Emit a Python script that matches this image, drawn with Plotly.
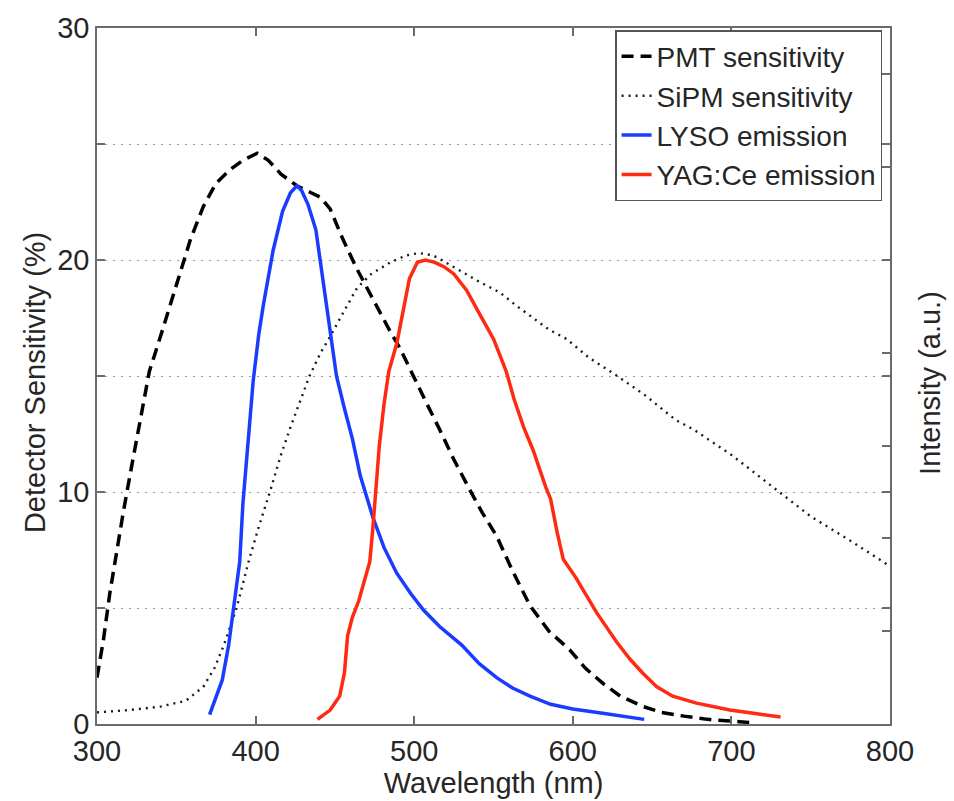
import plotly.graph_objects as go

# ---- data ----
pmt_wl = [300, 304, 308, 312, 316.5, 321, 325, 329, 333, 340, 346, 352, 359, 367, 375, 384, 392, 401,
          408, 416, 426, 435, 441, 447, 455, 464, 474, 485, 491, 500, 508, 516, 525, 535, 543, 552,
          562, 573, 585, 598, 608, 619, 630, 644, 656, 670, 685, 705, 715]
pmt_val = [2.0, 3.6, 5.6, 7.3, 9.1, 10.8, 12.3, 13.8, 15.2, 16.7, 18.0, 19.4, 20.9, 22.3, 23.3, 23.9, 24.3, 24.6,
           24.3, 23.7, 23.2, 22.9, 22.7, 22.2, 20.9, 19.6, 18.3, 16.9, 16.2, 14.9, 13.8, 12.7, 11.4, 10.1, 9.1, 8.1,
           6.6, 5.1, 4.0, 3.2, 2.4, 1.75, 1.2, 0.76, 0.5, 0.34, 0.2, 0.1, 0.05]

sipm_wl = [300, 320, 340, 356, 367, 374, 380, 388, 396, 402, 409, 416, 422, 428, 434, 441, 447, 455,
           464, 473, 485, 495, 503, 512, 520, 530, 540, 554, 565, 575, 585, 596, 610, 628, 645, 665,
           676, 700, 728, 750, 775, 800]
sipm_val = [0.5, 0.6, 0.75, 1.0, 1.6, 2.4, 3.4, 5.0, 7.1, 8.5, 10.0, 11.6, 12.8, 13.9, 15.0, 16.0, 16.7, 17.7,
            18.8, 19.4, 19.9, 20.2, 20.3, 20.2, 19.9, 19.5, 19.1, 18.6, 18.0, 17.5, 17.0, 16.6, 15.8, 15.0, 14.2, 13.1,
            12.7, 11.6, 10.1, 8.95, 7.9, 6.8]

lyso_wl = [371, 376, 379, 383, 388, 390, 392, 395, 398.5, 402, 405, 411, 417, 422, 426, 429, 433, 438,
           442, 446, 451, 456, 461, 466, 474, 481, 489, 498, 506, 516, 530, 541, 552, 562, 573, 586,
           600, 620, 635, 645]
lyso_val = [0.4, 1.3, 1.9, 3.4, 5.8, 7.0, 9.5, 12.0, 14.8, 16.8, 18.1, 20.4, 22.1, 22.9, 23.2, 23.0, 22.4, 21.3,
            19.4, 17.5, 15.0, 13.6, 12.3, 10.7, 8.9, 7.6, 6.5, 5.6, 4.9, 4.2, 3.4, 2.6, 2.0, 1.55, 1.2, 0.85,
            0.65, 0.45, 0.3, 0.2]

yag_wl = [439, 447, 453, 456, 458, 461, 465, 469, 472, 474, 476, 478, 481, 484, 489, 493, 497, 502,
          507, 513, 519, 525, 533, 541, 550, 558, 563, 569, 575, 583, 586, 590, 594, 602, 608, 615,
          622, 628, 636, 644, 653, 663, 678, 699, 715, 731]
yag_val = [0.2, 0.6, 1.2, 2.2, 3.8, 4.6, 5.3, 6.2, 7.0, 8.5, 10.3, 12.0, 13.8, 15.2, 16.4, 17.8, 19.2, 19.9,
           20.0, 19.9, 19.7, 19.4, 18.7, 17.7, 16.6, 15.2, 14.0, 12.8, 11.8, 10.2, 9.7, 8.3, 7.1, 6.3, 5.6, 4.8,
           4.1, 3.5, 2.8, 2.2, 1.6, 1.2, 0.9, 0.6, 0.45, 0.3]

x_ticks = [300, 400, 500, 600, 700, 800]
y_ticks = [0, 5, 10, 15, 20, 25, 30]
y_ticktext = ["0", "", "10", "", "20", "", "30"]
y2_ticks = [0, 4, 8, 12, 16, 20, 24, 28]

FONT = "Liberation Sans, Arial, sans-serif"
TXT = "#262626"
AX = "#6b6b6b"

fig = go.Figure()
fig.add_trace(go.Scatter(x=pmt_wl, y=pmt_val, mode="lines", name="PMT sensitivity",
                         line=dict(color="black", width=3.5, dash="12px,7px")))
fig.add_trace(go.Scatter(x=sipm_wl, y=sipm_val, mode="lines", name="SiPM sensitivity",
                         line=dict(color="#1a1a1a", width=2.4, dash="2px,5px")))
fig.add_trace(go.Scatter(x=lyso_wl, y=lyso_val, mode="lines", name="LYSO emission", yaxis="y2",
                         line=dict(color="#1a3cff", width=3.5)))
fig.add_trace(go.Scatter(x=yag_wl, y=yag_val, mode="lines", name="YAG:Ce emission", yaxis="y2",
                         line=dict(color="#ff2a12", width=3.5)))

fig.update_layout(
    width=954, height=801,
    margin=dict(l=97, r=64, t=20, b=73),
    paper_bgcolor="white", plot_bgcolor="white",
    font=dict(family=FONT, size=29, color=TXT),
    showlegend=True,
    legend=dict(x=0.99, y=0.997, xanchor="right", yanchor="top",
                bgcolor="white", bordercolor="#555555", borderwidth=1.5,
                font=dict(size=28, color=TXT), tracegroupgap=0),
    xaxis=dict(range=[300, 800], tickvals=x_ticks, ticks="inside", ticklen=8, tickwidth=1.5,
               tickcolor=AX, showline=True, linecolor=AX, linewidth=1.5, mirror="ticks",
               showgrid=False, zeroline=False, tickfont=dict(size=29, color=TXT),
               title=dict(text="Wavelength (nm)", font=dict(size=29, color=TXT), standoff=2)),
    yaxis=dict(range=[0, 30], tickvals=y_ticks, ticktext=y_ticktext, ticks="inside", ticklen=8,
               tickwidth=1.5, tickcolor=AX, showline=True, linecolor=AX, linewidth=1.5, mirror="ticks",
               showgrid=True, gridcolor="#9a9a9a", gridwidth=1, griddash="2px,6px", zeroline=False,
               tickfont=dict(size=29, color=TXT)),
    yaxis2=dict(range=[0, 30], overlaying="y", side="right", tickvals=y2_ticks, showticklabels=False,
                ticks="inside", ticklen=8, tickwidth=1.5, tickcolor=AX, showline=False,
                showgrid=False, zeroline=False),
    annotations=[
        dict(text="Detector Sensitivity (%)", xref="paper", yref="paper", x=-0.078, y=0.49,
             xanchor="center", yanchor="middle", textangle=-90, showarrow=False,
             font=dict(size=29, color=TXT)),
        dict(text="Intensity (a.u.)", xref="paper", yref="paper", x=1.0504, y=0.49,
             xanchor="center", yanchor="middle", textangle=-90, showarrow=False,
             font=dict(size=29, color=TXT)),
    ],
)

fig.write_html("out.html")
